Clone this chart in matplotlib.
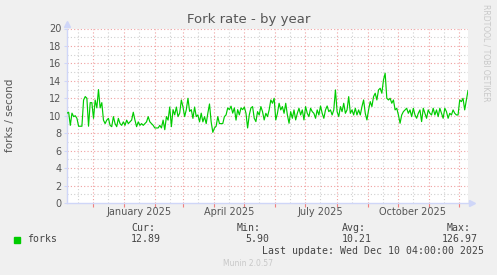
import matplotlib
matplotlib.use("Agg")
import matplotlib.pyplot as plt
import pandas as pd

# fork rate (forks / second)
fork_values = [
    10.3, 10.4, 8.9, 10.3, 9.9, 10.0, 9.7, 8.8, 8.8, 8.8, 11.8, 12.2, 12.0, 8.8,
    11.5, 11.5, 9.7, 11.8, 10.9, 13.0, 10.9, 11.5, 9.5, 9.1, 9.5, 9.7, 8.9, 8.75,
    9.9, 9.1, 8.75, 9.7, 9.1, 8.9, 9.3, 8.9, 9.5, 9.1, 9.3, 9.5, 10.4, 9.5, 8.75,
    9.3, 8.9, 9.1, 8.9, 9.1, 9.3, 9.9, 9.3, 9.1, 8.9, 8.6, 8.6, 8.6, 8.9, 8.6, 9.5,
    8.4, 9.9, 9.5, 11.0, 8.75, 10.7, 10.1, 11.0, 9.9, 10.3, 11.8, 11.0, 9.9, 10.7,
    12.0, 10.5, 10.7, 9.7, 11.0, 9.9, 10.1, 9.3, 10.3, 9.3, 9.9, 9.1, 10.3, 11.35,
    9.3, 8.1, 8.6, 8.8, 9.9, 9.1, 9.1, 9.1, 9.9, 10.1, 10.9, 10.7, 11.1, 10.3, 10.9,
    9.5, 10.7, 10.1, 10.9, 10.7, 11.0, 10.3, 8.6, 10.1, 10.9,
    11.05, 9.71, 9.33, 10.47, 10.09, 11.05, 10.47, 9.52, 10.28, 9.90, 10.67, 11.81,
    11.43, 12.0, 9.52, 10.28, 11.43, 10.67, 11.05, 10.28, 11.43, 10.09, 9.14, 10.47,
    9.71, 10.67, 9.52, 10.28, 10.86, 10.09, 10.67, 9.52, 11.05, 10.28, 9.90, 10.86,
    10.47, 10.28, 9.71, 10.67, 10.09, 11.12, 10.28, 9.71, 10.67, 11.12, 10.47, 10.67,
    10.09, 10.67, 12.96, 10.47, 9.90, 11.05, 10.47, 11.43, 10.28, 10.67, 12.19, 10.28,
    10.67, 10.09, 10.86, 10.09, 10.67, 10.09, 11.05, 11.81, 10.28, 9.52, 10.67, 11.62,
    11.05, 12.19, 12.58, 11.81, 12.96, 13.15, 12.58, 14.11, 14.87, 12.0, 11.81, 12.0,
    11.43, 11.81, 10.67, 10.86, 10.09, 9.14, 10.09, 10.47, 10.67, 10.86, 10.28, 10.67,
    9.90, 10.86, 10.09, 9.71, 10.28, 10.67, 9.33, 10.86, 10.28, 9.71, 10.67, 10.28,
    10.09, 10.86, 10.09, 10.67, 9.90, 10.86, 10.28, 9.71, 10.86, 10.47, 9.71, 10.28,
    10.09, 10.67, 10.28, 10.09, 10.09, 11.81, 11.62, 12.0, 10.67, 11.81, 12.89,
]

yticks = list(range(0, 21, 2))
x_labels = ["January 2025", "April 2025", "July 2025", "October 2025"]
label_dates = ["2025-01-16", "2025-04-16", "2025-07-16", "2025-10-16"]

legend_name = "forks"
stat_names = ["Cur:", "Min:", "Avg:", "Max:"]
stat_values = ["12.89", "5.90", "10.21", "126.97"]
last_update = "Last update: Wed Dec 10 04:00:00 2025"

end = pd.Timestamp("2025-12-10 04:00")
start = end - pd.Timedelta(days=400)
dates = pd.date_range(start, end, periods=len(fork_values))

W, H = 497, 275
fig = plt.figure(figsize=(W / 100, H / 100), dpi=100, facecolor="#F0F0F0")
ax = fig.add_axes([67 / W, 72 / H, 401 / W, 174.5 / H])
ax.set_facecolor("white")

ax.set_xlim(start, end)
ax.set_ylim(0, 20)

# grid: minor (grey) first, major (red) on top
month_starts = pd.date_range("2024-12-01", "2025-12-01", freq="MS")
mid_months = pd.date_range("2024-11-01", "2025-12-01", freq="MS") + pd.Timedelta(days=15)
for d in mid_months:
    ax.axvline(d, color="#d0d0d0", lw=0.8, ls=(0, (1, 2)), zorder=1)
for v in range(1, 20, 2):
    ax.axhline(v, color="#d0d0d0", lw=0.8, ls=(0, (1, 2)), zorder=1)
for d in month_starts:
    ax.axvline(d, color="#f0a0a0", lw=0.8, ls=(0, (1, 2)), zorder=1.5)
for v in yticks[1:]:
    ax.axhline(v, color="#f0a0a0", lw=0.8, ls=(0, (1, 2)), zorder=1.5)

ax.plot(dates, fork_values, color="#00CC00", lw=0.85, zorder=3)

# ticks
ax.set_yticks(yticks)
ax.set_yticklabels([str(v) for v in yticks], fontsize=7, color="#555555")
ax.tick_params(axis="y", length=2, color="#CFD6F8", pad=2)
ax.set_xticks(month_starts)
ax.set_xticklabels([""] * len(month_starts))
ax.tick_params(axis="x", which="major", length=3, color="#f08080", direction="out")
ax.set_xticks(pd.to_datetime(label_dates), x_labels, minor=True)
ax.tick_params(axis="x", which="minor", length=0, labelsize=7, labelcolor="#555555", pad=3)

for s in ["top", "right"]:
    ax.spines[s].set_visible(False)
for s in ["bottom", "left"]:
    ax.spines[s].set_color("#CFD6F8")
    ax.spines[s].set_linewidth(1.0)

# axis arrows
ax.plot([1.01], [0], marker=">", ms=4, color="#CFD6F8", transform=ax.transAxes, clip_on=False)
ax.plot([0], [1.025], marker="^", ms=4, color="#CFD6F8", transform=ax.transAxes, clip_on=False)

fig.text(248.5 / W, 1 - 19.5 / H, "Fork rate - by year", ha="center", va="center",
         fontsize=9.5, color="#555555")
fig.text(10 / W, 1 - 115 / H, "forks / second", ha="center", va="center",
         rotation=90, fontsize=7.5, color="#555555")
fig.text(486 / W, 1 - 53 / H, "RRDTOOL / TOBI OETIKER", ha="center", va="center",
         rotation=270, fontsize=5.5, color="#c8c8c8")

# legend block
mono = "DejaVu Sans Mono"
fig.patches.append(plt.Rectangle((14 / W, 1 - 242.5 / H), 6 / W, 6 / H,
                                 transform=fig.transFigure, color="#00CC00"))
fig.text(27 / W, 1 - 239.5 / H, legend_name, ha="left", va="center",
         fontsize=7.1, family=mono, color="#444444")
name_x = [131, 237, 342, 447]
value_x = [131, 245, 342, 442]
for nx, vx, n, v in zip(name_x, value_x, stat_names, stat_values):
    fig.text(nx / W, 1 - 227.7 / H, n, ha="left", va="center",
             fontsize=7.1, family=mono, color="#444444")
    fig.text(vx / W, 1 - 239.5 / H, v, ha="left", va="center",
             fontsize=7.1, family=mono, color="#444444")
fig.text(261.7 / W, 1 - 251 / H, last_update, ha="left", va="center",
         fontsize=7.1, family=mono, color="#444444")
fig.text(248 / W, 1 - 264 / H, "Munin 2.0.57", ha="center", va="center",
         fontsize=5.5, color="#c8c8c8")

fig.savefig("out.png", dpi=100, facecolor=fig.get_facecolor())
